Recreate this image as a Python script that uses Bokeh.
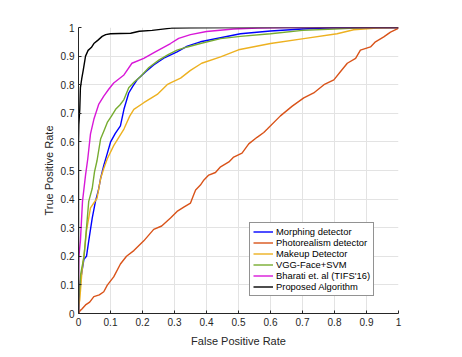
from bokeh.plotting import figure
from bokeh.models import Range1d, FixedTicker, Legend, LegendItem
from bokeh.embed import file_html
from bokeh.resources import INLINE

# ---- data ----
series_names = ["Morphing detector", "Photorealism detector", "Makeup Detector",
                "VGG-Face+SVM", "Bharati et. al (TIFS'16)", "Proposed Algorithm"]

morph_fpr = [0, 0.001, 0.007, 0.017, 0.025, 0.032, 0.043, 0.053, 0.062, 0.069, 0.079, 0.09, 0.1, 0.115,
             0.131, 0.142, 0.157, 0.17, 0.183, 0.21, 0.235, 0.27, 0.308, 0.34, 0.381, 0.444, 0.506, 0.6,
             0.7, 0.81, 1.0]
morph_tpr = [0, 0.05, 0.12, 0.19, 0.2, 0.254, 0.334, 0.392, 0.43, 0.472, 0.518, 0.56, 0.599, 0.63,
             0.656, 0.714, 0.771, 0.795, 0.817, 0.845, 0.869, 0.895, 0.915, 0.935, 0.95, 0.964, 0.978, 0.988,
             0.995, 1.0, 1.0]

photo_fpr = [0, 0.005, 0.01, 0.022, 0.035, 0.048, 0.065, 0.079, 0.09, 0.11, 0.131, 0.15, 0.173, 0.204,
             0.235, 0.26, 0.2875, 0.308, 0.329, 0.35, 0.36, 0.366, 0.381, 0.392, 0.407, 0.428, 0.444, 0.47,
             0.485, 0.511, 0.532, 0.558, 0.579, 0.59, 0.631, 0.668, 0.704, 0.735, 0.767, 0.798, 0.819, 0.84,
             0.866, 0.881, 0.9125, 0.928, 0.954, 0.975, 0.996, 1.0]
photo_tpr = [0, 0.01, 0.015, 0.03, 0.04, 0.059, 0.065, 0.076, 0.099, 0.128, 0.173, 0.2, 0.22, 0.254,
             0.294, 0.306, 0.334, 0.357, 0.372, 0.386, 0.415, 0.432, 0.449, 0.467, 0.484, 0.493, 0.513, 0.53,
             0.547, 0.561, 0.593, 0.616, 0.633, 0.645, 0.691, 0.725, 0.754, 0.771, 0.8, 0.817, 0.846, 0.875,
             0.892, 0.921, 0.932, 0.95, 0.967, 0.984, 0.995, 1.0]

makeup_fpr = [0, 0.001, 0.004, 0.011, 0.019, 0.025, 0.0375, 0.058, 0.069, 0.079, 0.09, 0.11, 0.142, 0.16,
              0.173, 0.204, 0.246, 0.277, 0.2875, 0.319, 0.35, 0.385, 0.444, 0.5, 0.6, 0.704, 0.808, 0.86,
              0.933, 1.0]
makeup_tpr = [0, 0.03, 0.048, 0.15, 0.22, 0.29, 0.369, 0.403, 0.472, 0.507, 0.541, 0.587, 0.645, 0.69,
              0.714, 0.737, 0.766, 0.8, 0.806, 0.823, 0.85, 0.875, 0.897, 0.922, 0.944, 0.961, 0.978, 0.992,
              0.998, 1.0]

vgg_fpr = [0, 0.001, 0.007, 0.017, 0.025, 0.032, 0.043, 0.05, 0.058, 0.069, 0.08, 0.09, 0.103, 0.116,
           0.13, 0.142, 0.157, 0.175, 0.194, 0.22, 0.251, 0.28, 0.308, 0.34, 0.381, 0.444, 0.506, 0.6, 0.7,
           0.8, 0.9, 1.0]
vgg_tpr = [0, 0.05, 0.139, 0.197, 0.3, 0.392, 0.438, 0.495, 0.535, 0.61, 0.64, 0.668, 0.69, 0.714,
           0.73, 0.748, 0.789, 0.81, 0.829, 0.86, 0.886, 0.905, 0.921, 0.932, 0.944, 0.961, 0.969, 0.978,
           0.99, 0.995, 1.0, 1.0]

bharati_fpr = [0, 0, 0.001, 0.006, 0.0125, 0.022, 0.029, 0.0375, 0.048, 0.063, 0.079, 0.095, 0.11, 0.142,
               0.167, 0.204, 0.24, 0.2875, 0.313, 0.35, 0.4, 0.485, 0.56, 0.65, 0.8, 1.0]
bharati_tpr = [0, 0.12, 0.197, 0.254, 0.392, 0.484, 0.541, 0.628, 0.679, 0.731, 0.76, 0.785, 0.806, 0.834,
               0.875, 0.892, 0.915, 0.944, 0.962, 0.975, 0.986, 0.995, 0.998, 1.0, 1.0, 1.0]

proposed_fpr = [0, 0, 0.001, 0.004, 0.006, 0.01, 0.015, 0.022, 0.03, 0.04, 0.048, 0.06, 0.074, 0.085,
                0.1, 0.13, 0.163, 0.19, 0.23, 0.29, 0.35, 0.5, 0.75, 1.0]
proposed_tpr = [0, 0.6, 0.66, 0.714, 0.79, 0.82, 0.852, 0.9, 0.92, 0.93, 0.944, 0.955, 0.969, 0.975,
                0.978, 0.979, 0.98, 0.987, 0.99, 0.998, 0.999, 1.0, 1.0, 1.0]

tick_values = [0, 0.1, 0.2, 0.3, 0.4, 0.5, 0.6, 0.7, 0.8, 0.9, 1.0]
tick_labels = ["0", "0.1", "0.2", "0.3", "0.4", "0.5", "0.6", "0.7", "0.8", "0.9", "1"]

colors = ["#0000FF", "#D95319", "#EDB120", "#77AC30", "#D818D8", "#000000"]

series = [(morph_fpr, morph_tpr), (photo_fpr, photo_tpr), (makeup_fpr, makeup_tpr),
          (vgg_fpr, vgg_tpr), (bharati_fpr, bharati_tpr), (proposed_fpr, proposed_tpr)]

FONT = "Liberation Sans"
DARK = "#262626"

p = figure(width=454, height=349, output_backend="svg", toolbar_location=None,
           x_range=Range1d(0, 1), y_range=Range1d(0, 1),
           min_border_left=78, min_border_right=56, min_border_top=27, min_border_bottom=32,
           x_axis_label="False Positive Rate", y_axis_label="True Positive Rate")
p.outline_line_color = None
p.background_fill_color = "white"
p.border_fill_color = "white"

items = []
for (fx, ty), name, c in zip(series, series_names, colors):
    r = p.line(fx, ty, line_color=c, line_width=1.4)
    items.append(LegendItem(label=name, renderers=[r]))

lbl_map = {v: l for v, l in zip(tick_values, tick_labels)}
for ax in (p.xaxis[0], p.yaxis[0]):
    ax.ticker = FixedTicker(ticks=tick_values)
    ax.major_label_overrides = lbl_map
    ax.axis_line_color = DARK
    ax.axis_line_width = 1
    ax.major_tick_line_color = DARK
    ax.major_tick_in = 3
    ax.major_tick_out = 0
    ax.minor_tick_line_color = None
    ax.major_label_text_font = FONT
    ax.major_label_text_font_size = "10px"
    ax.major_label_text_color = DARK
    ax.axis_label_text_font = FONT
    ax.axis_label_text_font_size = "11px"
    ax.axis_label_text_font_style = "normal"
    ax.axis_label_text_color = DARK
    ax.major_label_standoff = 4
p.xaxis[0].axis_label_standoff = 6
p.yaxis[0].axis_label_standoff = 3

for g in (p.xgrid[0], p.ygrid[0]):
    g.grid_line_color = "#E3E3E3"
    g.grid_line_width = 1

legend = Legend(items=items, location=(171, 17))
legend.border_line_color = DARK
legend.border_line_width = 0.8
legend.background_fill_color = "white"
legend.background_fill_alpha = 1
legend.padding = 3
legend.spacing = 0
legend.margin = 0
legend.glyph_width = 20
legend.glyph_height = 11
legend.label_height = 11
legend.label_standoff = 3
legend.label_text_font = FONT
legend.label_text_font_size = "9.4px"
legend.label_text_color = "#000000"
p.add_layout(legend, "center")

open("out.html", "w").write(file_html(p, INLINE))
